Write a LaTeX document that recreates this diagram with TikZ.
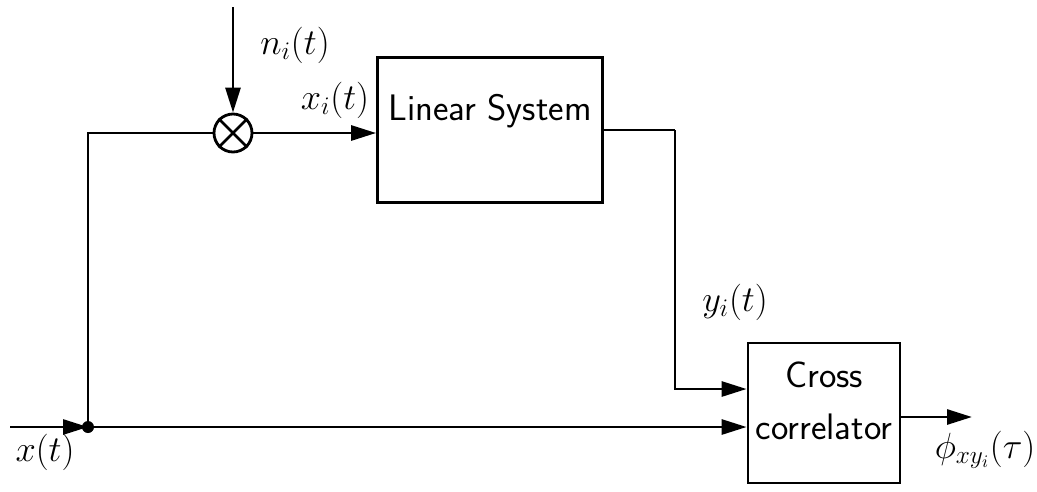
\documentclass[tikz,border=0pt]{standalone}
\usepackage{fontspec}
\usetikzlibrary{arrows.meta}
\tikzset{
  block/.style={draw, line width=1.6pt, align=center, font=\sffamily\fontsize{21}{30}\selectfont},
  mult/.style={draw, circle, line width=1.6pt, minimum size=0.76cm, inner sep=0pt},
  sig/.style={font=\fontsize{20}{24}\selectfont},
}
\begin{document}
\begin{tikzpicture}[x=0.02cm, y=-0.02cm, line width=1.6pt, >={Triangle[length=5mm,width=3mm]}]
    % Rahmen 1037 x 491
    \useasboundingbox (0,0) rectangle (1037,491);
    % Bloecke
    \node[block, minimum width=4.5cm, minimum height=2.9cm] (lin) at (490,130) {Linear System\\[-4pt]};
    \node[block, minimum width=3.04cm, minimum height=2.8cm] (cc) at (824,413) {Cross\\correlator\\[-16pt]};
    \node[mult] (mix) at (233,133) {};
    \draw (mix.45) -- (mix.225) (mix.135) -- (mix.315);
    % Punkte
    \coordinate (in) at (10,427);
    \coordinate (split) at (88,427);
    \coordinate (up) at (88,133);
    \coordinate (noise) at (233,7);
    \coordinate (bend) at (675,130);
    \coordinate (out) at (972,417);
    % Verbindungen
    \draw[->] (in) -- (split);
    \draw[->] (split) -- (split -| cc.west);
    \draw (split) -- (up) -- (mix);
    \draw[->] (noise) -- (mix);
    \draw[->] (mix) -- (mix -| lin.west);
    \draw (lin.east |- bend) -- (bend);
    \draw[->] (bend) -- (bend |- 0,389) -- (cc.west |- 0,389);
    \draw[->] (cc.east |- out) -- (out);
    \fill (split) circle (6);
    % Beschriftungen
    \node[sig] (lx) at (45,452) {$x(t)$};
    \node[sig] (ln) at (295,45) {$n_i(t)$};
    \node[sig] (lxi) at (335,100) {$x_i(t)$};
    \node[sig] (ly) at (735,302) {$y_i(t)$};
    \node[sig] (lphi) at (985,450) {$\phi_{xy_i}(\tau)$};
\end{tikzpicture}
\end{document}
